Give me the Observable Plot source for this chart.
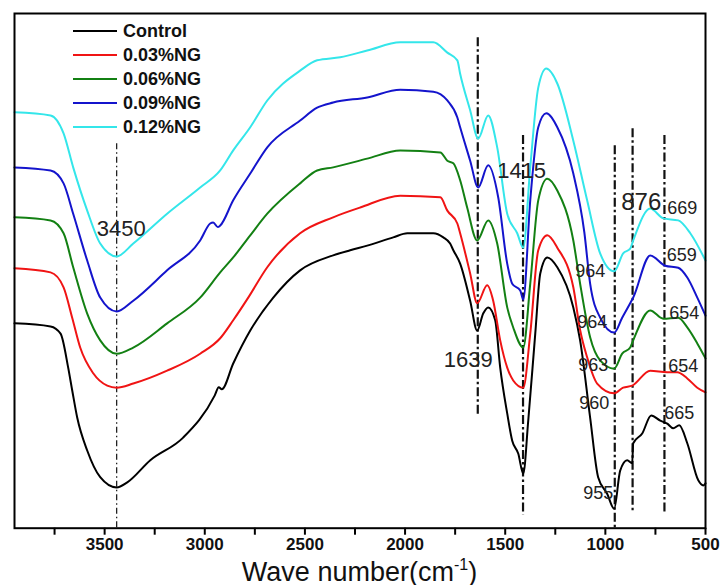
<!DOCTYPE html>
<html><head><meta charset="utf-8">
<script src="https://cdn.jsdelivr.net/npm/d3@7"></script>
<script src="https://cdn.jsdelivr.net/npm/@observablehq/plot@0.6"></script>
<style>
body{margin:0;background:#fff;}
#wrap{position:relative;width:723px;height:585px;font-family:"Liberation Sans",Arial,sans-serif;}
#legend{position:absolute;left:73px;top:18.6px;}
.row{display:flex;align-items:center;height:24.2px;}
.sw{width:44px;height:2px;margin-right:6px;}
.lab{font-weight:bold;font-size:18px;color:#111;line-height:18px;}
</style></head><body><div id="wrap"><div id="legend"></div></div>
<script>
const series = ["Control","0.03%NG","0.06%NG","0.09%NG","0.12%NG"];
const colors = ["#000000","#f01414","#138013","#1414cc","#34e6ea"];

// [wavenumber (cm-1), transmittance (a.u., offset)]
const control = [[3950,39.8],[3770,39.2],[3720,37.8],[3682,31.2],[3662,26.8],[3637,21.5],[3587,15.1],[3522,9.9],[3440,7.9],[3387,8.9],[3272,13.2],[3108,17.6],[2950,25.8],[2930,27.4],[2915,27.0],[2858,32.0],[2773,38.4],[2658,44.8],[2524,50.1],[2359,53.0],[2274,54.0],[2189,54.9],[2059,56.5],[1989,57.3],[1859,57.3],[1809,56.5],[1775,55.3],[1759,54.0],[1725,51.4],[1675,44.2],[1640,38.4],[1610,41.7],[1585,42.9],[1550,40.4],[1525,31.2],[1490,22.3],[1465,17.0],[1435,14.5],[1410,10.6],[1385,20.9],[1350,37.8],[1325,49.5],[1290,52.6],[1240,50.7],[1160,42.9],[1126,36.5],[1076,21.5],[1036,9.9],[991,6.7],[956,3.8],[926,11.2],[891,13.2],[866,12.6],[861,16.5],[816,18.4],[771,21.9],[726,20.9],[691,20.3],[661,19.4],[631,20.0],[591,16.5],[536,9.3],[511,8.3],[500,8.7]];
const ng003 = [[3950,50.5],[3770,49.7],[3705,46.8],[3662,40.9],[3622,35.1],[3557,30.1],[3487,27.7],[3440,27.3],[3357,28.1],[3188,30.6],[3023,33.9],[2923,36.9],[2858,40.4],[2783,44.8],[2688,50.7],[2524,57.3],[2359,60.4],[2224,62.3],[2024,64.6],[1824,64.3],[1789,61.7],[1739,59.2],[1725,57.3],[1675,49.5],[1640,43.7],[1590,47.2],[1560,44.2],[1525,36.5],[1490,31.2],[1460,28.7],[1410,27.3],[1375,37.8],[1335,54.0],[1290,56.9],[1240,54.5],[1160,46.8],[1126,38.5],[1091,33.2],[1041,28.1],[956,26.2],[911,27.3],[866,27.7],[776,30.6],[691,30.3],[641,30.3],[591,29.1],[541,27.3],[500,26.4]];
const ng006 = [[3950,60.4],[3770,59.8],[3705,57.3],[3657,50.7],[3587,41.7],[3522,36.5],[3440,33.9],[3357,35.1],[3188,39.8],[3023,44.8],[2923,49.7],[2858,52.6],[2773,56.9],[2688,61.1],[2524,67.0],[2439,69.5],[2359,70.1],[2189,71.8],[2024,73.4],[1824,73.0],[1789,71.4],[1759,70.9],[1725,67.6],[1690,62.3],[1640,55.9],[1585,59.8],[1540,55.3],[1490,42.9],[1460,39.0],[1410,35.1],[1375,47.5],[1335,63.7],[1290,67.9],[1240,65.6],[1160,55.9],[1126,47.5],[1076,37.1],[1026,32.6],[956,31.0],[916,33.9],[876,35.1],[861,36.5],[776,42.3],[711,40.7],[636,40.9],[591,39.0],[541,35.9],[500,33.0]];
const ng009 = [[3950,70.1],[3770,69.5],[3705,67.0],[3657,61.1],[3587,52.0],[3522,44.8],[3440,42.1],[3357,44.2],[3188,50.1],[3023,55.9],[2973,59.2],[2958,59.4],[2935,58.5],[2923,58.8],[2858,63.7],[2773,68.9],[2688,74.0],[2524,79.2],[2439,81.7],[2359,82.7],[2189,83.7],[2024,85.2],[1859,84.8],[1789,83.1],[1739,79.8],[1725,77.9],[1675,71.4],[1635,66.2],[1585,70.5],[1535,64.3],[1490,51.4],[1465,47.5],[1425,46.2],[1410,44.4],[1375,63.7],[1335,77.9],[1295,80.6],[1240,77.9],[1160,68.9],[1105,57.5],[1076,47.5],[1026,40.9],[956,38.0],[916,40.9],[876,43.7],[861,44.8],[776,53.0],[701,51.0],[636,50.6],[591,48.7],[541,44.8],[500,41.3]];
const ng012 = [[3950,80.8],[3770,80.2],[3705,76.7],[3657,70.1],[3587,61.7],[3522,55.3],[3440,52.8],[3357,55.3],[3188,61.1],[3023,66.2],[2923,69.5],[2858,73.4],[2773,77.9],[2688,83.1],[2524,88.9],[2439,90.9],[2324,91.5],[2189,92.8],[2024,94.4],[1859,94.4],[1789,92.4],[1739,90.9],[1725,88.3],[1675,81.2],[1635,75.7],[1585,80.2],[1540,74.0],[1490,61.1],[1440,57.3],[1410,54.5],[1375,70.1],[1335,85.6],[1295,89.3],[1240,86.4],[1160,75.3],[1091,63.7],[1026,53.4],[956,49.9],[911,53.4],[876,54.3],[861,55.9],[776,62.1],[711,60.2],[636,59.8],[576,57.3],[500,52.0]];

// peak marker lines: wavenumber, top and bottom (a.u.)
const peakW = [3440, 1637, 1411, 953, 864, 705];
const peakTop = [74.7, 95.3, 76.3, 74.3, 77.6, 76.3];
const peakBottom = [0, 21.9, 2.5, 0, 3.4, 2.9];

// peak annotations
const annLabels = ["3450","1639","1415","876","964","964","963","960","955","669","659","654","654","665"];
const annW = [3417, 1685, 1418, 821, 1075, 1065, 1060, 1055, 1035, 616, 619, 606, 611, 631];
const annT = [58.2, 32.6, 69.5, 63.3, 50.0, 40.0, 31.6, 24.2, 6.7, 62.1, 53.1, 41.7, 31.4, 22.3];

const xTicks = [3750,3500,3250,3000,2750,2500,2250,2000,1750,1500,1250,1000,750,500];

const allSeries = [control, ng003, ng006, ng009, ng012];
const rows = allSeries.flatMap((arr, i) => arr.map(([w, t]) => ({w, t, s: series[i]})));
const lines = peakW.map((w, i) => ({w, t1: peakTop[i], t2: peakBottom[i]}));
const ann = annLabels.map((label, i) => ({label, w: annW[i], t: annT[i], big: i < 4}));

const FONT = '"Liberation Sans", Arial, sans-serif';

const chart = Plot.plot({
  width: 723, height: 585,
  marginLeft: 14, marginRight: 18, marginTop: 13, marginBottom: 57.3,
  style: {fontFamily: FONT, background: "#fff", overflow: "visible"},
  x: {domain: [3950, 500], axis: null},
  y: {domain: [0, 100], axis: null},
  color: {domain: series, range: colors},
  marks: [
    Plot.ruleX(lines.slice(0,1), {x: "w", y1: "t1", y2: "t2", stroke: "#222", strokeWidth: 1.3, strokeDasharray: "6,3,1.5,3"}),
    Plot.ruleX(lines.slice(1), {x: "w", y1: "t1", y2: "t2", stroke: "#111", strokeWidth: 2.2, strokeDasharray: "9,3,2.5,3"}),
    Plot.line(rows, {x: "w", y: "t", z: "s", stroke: "s", strokeWidth: 2, curve: "monotone-x"}),
    Plot.text(ann.filter(d => d.big && d.label !== "876"), {x: "w", y: "t", text: "label", fontSize: 22, fill: "#222"}),
    Plot.text(ann.filter(d => d.label === "876"), {x: "w", y: "t", text: "label", fontSize: 24, fill: "#222"}),
    Plot.text(ann.filter(d => !d.big), {x: "w", y: "t", text: "label", fontSize: 18, fill: "#222"}),
    Plot.axisX({ticks: xTicks, tickFormat: d => d % 500 === 0 ? String(d) : "", tickSize: 7, tickPadding: 3, fontSize: 17, strokeWidth: 2, label: null, stroke: "#000"}),
    Plot.frame({stroke: "#000", strokeWidth: 2})
  ]
});

const svg = d3.select(chart);
svg.selectAll("g[aria-label='x-axis tick label'] text, g[aria-label='x-axis tick label']").attr("font-weight", "bold").attr("fill", "#111");
const title = svg.append("text")
  .attr("x", 359.5).attr("y", 580.5)
  .attr("text-anchor", "middle")
  .attr("font-family", FONT).attr("font-size", 27).attr("fill", "#111");
title.append("tspan").text("Wave number(cm");
title.append("tspan").attr("font-size", 16).attr("dy", -11).text("-1");
title.append("tspan").attr("dy", 11).text(")");

document.getElementById("wrap").prepend(chart);

const legend = d3.select("#legend");
series.forEach((s, i) => {
  const r = legend.append("div").attr("class", "row");
  r.append("div").attr("class", "sw").style("background", colors[i]);
  r.append("div").attr("class", "lab").text(s);
});
</script></body></html>
